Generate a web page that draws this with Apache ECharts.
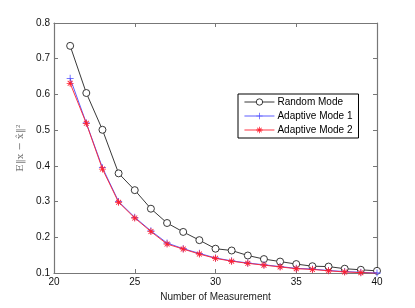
<!DOCTYPE html>
<html><head><meta charset="utf-8">
<script src="https://cdn.jsdelivr.net/npm/echarts@6/dist/echarts.min.js"></script>
<style>html,body{margin:0;padding:0;background:#fff}#c{width:415px;height:308px}</style>
</head><body><div id="c"></div>
<script>
const xValues = [21,22,23,24,25,26,27,28,29,30,31,32,33,34,35,36,37,38,39,40];
const randomMode = [0.736,0.604,0.501,0.379,0.332,0.280,0.240,0.215,0.192,0.168,0.163,0.149,0.139,0.132,0.125,0.119,0.118,0.112,0.109,0.106];
const adaptive1 = [0.645,0.520,0.395,0.300,0.256,0.218,0.184,0.168,0.155,0.142,0.134,0.128,0.123,0.118,0.113,0.111,0.107,0.104,0.102,0.100];
const adaptive2 = [0.631,0.519,0.391,0.298,0.254,0.216,0.181,0.167,0.153,0.141,0.133,0.127,0.122,0.117,0.112,0.110,0.106,0.103,0.101,0.099];
const seriesNames = ['Random Mode','Adaptive Mode 1','Adaptive Mode 2'];

const font = 'Liberation Sans, Arial, sans-serif';
const pairs = a => xValues.map((x,i)=>[x,a[i]]);
const plusPath = 'path://M4.45,0L5.55,0L5.55,4.45L10,4.45L10,5.55L5.55,5.55L5.55,10L4.45,10L4.45,5.55L0,5.55L0,4.45L4.45,4.45Z';
const starPath = 'path://M4.4,0L5.6,0L5.6,10L4.4,10Z M0,4.4L10,4.4L10,5.6L0,5.6Z M1.92,1.08L8.92,8.08L8.08,8.92L1.08,1.92Z M1.08,8.08L8.08,1.08L8.92,1.92L1.92,8.92Z';
const axisCol = '#777';

const chart = echarts.init(document.getElementById('c'), null, {renderer:'canvas'});
const baseX = {type:'value', min:20, max:40, interval:5,
  axisLine:{show:true, onZero:false, lineStyle:{color:axisCol, width:1.2}},
  axisTick:{show:true, inside:true, length:4, lineStyle:{color:axisCol}},
  splitLine:{show:false}};
const baseY = {type:'value', min:0.1, max:0.8, interval:0.1,
  axisLine:{show:true, onZero:false, lineStyle:{color:axisCol, width:1.2}},
  axisTick:{show:true, inside:true, length:4, lineStyle:{color:axisCol}},
  splitLine:{show:false}};

chart.setOption({
  animation:false,
  backgroundColor:'#fff',
  grid:{left:54, right:38, top:23, bottom:35},
  xAxis:[
    Object.assign({}, baseX, {position:'bottom', name:'Number of Measurement', nameLocation:'middle', nameGap:14,
      nameTextStyle:{color:'#222', fontSize:10, fontFamily:font},
      axisLabel:{color:'#111', fontSize:10, fontFamily:font, margin:4}}),
    Object.assign({}, baseX, {position:'top', axisLabel:{show:false}})
  ],
  yAxis:[
    Object.assign({}, baseY, {position:'left', name:'E‖x − x̂‖²', nameLocation:'middle', nameRotate:90, nameGap:26,
      nameTextStyle:{color:'#777', fontSize:10, fontFamily:'DejaVu Serif, Liberation Serif, serif'},
      axisLabel:{color:'#111', fontSize:10, fontFamily:font, margin:4, formatter:v=>v.toFixed(1)}}),
    Object.assign({}, baseY, {position:'right', axisLabel:{show:false}})
  ],
  legend:{
    orient:'vertical', left:238, top:94, width:116,
    data:seriesNames,
    backgroundColor:'#fff', borderColor:'#000', borderWidth:1,
    padding:[3,6,3,6], itemGap:4, itemWidth:30, itemHeight:8,
    lineStyle:{width:0.9},
    itemStyle:{borderWidth:0.9},
    textStyle:{color:'#000', fontSize:10, fontFamily:font, padding:[0,0,0,-2]}
  },
  series:[
    {name:seriesNames[0], type:'line', data:pairs(randomMode), symbol:'circle', symbolSize:7,
      lineStyle:{color:'#222', width:0.9}, itemStyle:{color:'#fff', borderColor:'#222', borderWidth:0.9}, z:2},
    {name:seriesNames[1], type:'line', data:pairs(adaptive1), symbol:plusPath, symbolSize:7,
      lineStyle:{color:'#4a4aff', width:0.9}, itemStyle:{color:'#4a4aff', borderWidth:0}, z:3},
    {name:seriesNames[2], type:'line', data:pairs(adaptive2), symbol:starPath, symbolSize:7,
      lineStyle:{color:'#ff2030', width:0.9}, itemStyle:{color:'#ff2030', borderWidth:0}, z:4}
  ]
});
</script></body></html>
